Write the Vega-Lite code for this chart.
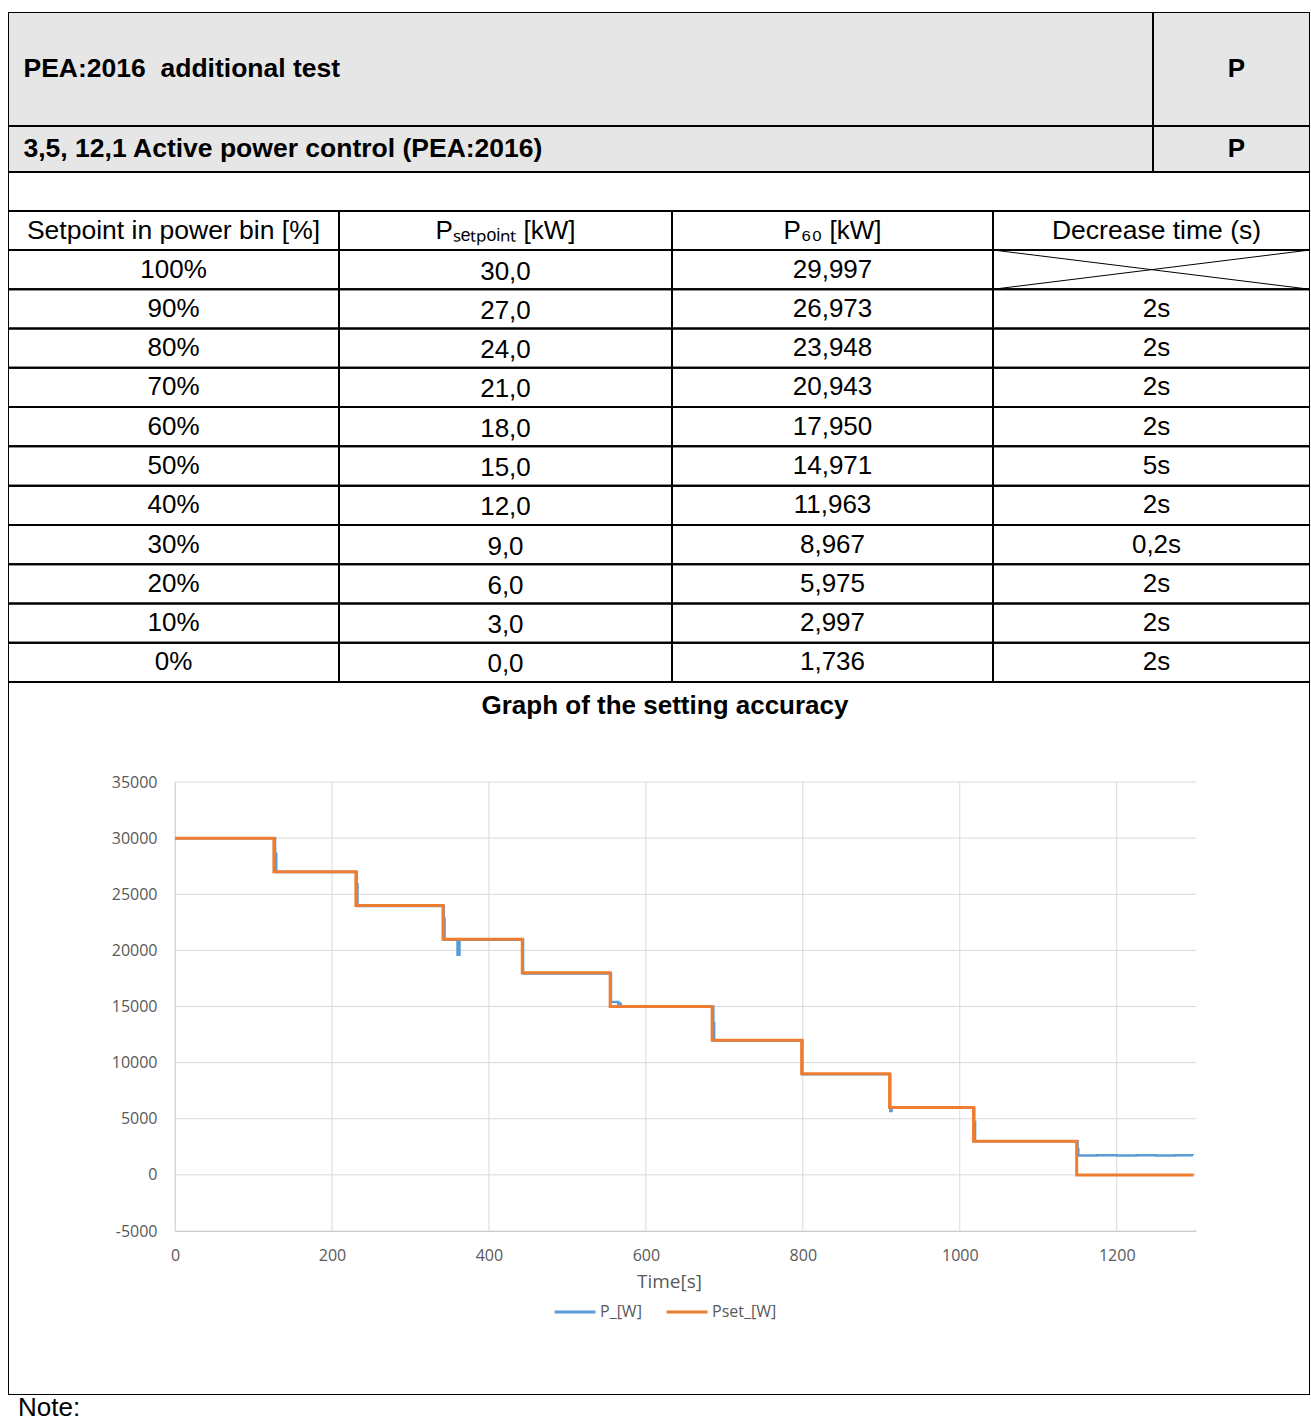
{
  "$schema": "https://vega.github.io/schema/vega-lite/v6.json",
  "background": "white",
  "padding": {"left": 8, "top": 12, "right": 0, "bottom": 0},
  "spacing": 0,
  "config": {
    "view": {"stroke": null, "fill": "white"},
    "text": {"font": "Liberation Sans", "fontSize": 26, "color": "black"},
    "locale": {"number": {"decimal": ",", "thousands": ".", "grouping": [3], "currency": ["", "s"], "minus": "-"}}
  },
  "datasets": {
    "table": [
      {"pct": 1.0, "pset": 30.0, "p60": 29.997, "dec": null},
      {"pct": 0.9, "pset": 27.0, "p60": 26.973, "dec": 2},
      {"pct": 0.8, "pset": 24.0, "p60": 23.948, "dec": 2},
      {"pct": 0.7, "pset": 21.0, "p60": 20.943, "dec": 2},
      {"pct": 0.6, "pset": 18.0, "p60": 17.950, "dec": 2},
      {"pct": 0.5, "pset": 15.0, "p60": 14.971, "dec": 5},
      {"pct": 0.4, "pset": 12.0, "p60": 11.963, "dec": 2},
      {"pct": 0.3, "pset": 9.0, "p60": 8.967, "dec": 0.2},
      {"pct": 0.2, "pset": 6.0, "p60": 5.975, "dec": 2},
      {"pct": 0.1, "pset": 3.0, "p60": 2.997, "dec": 2},
      {"pct": 0.0, "pset": 0.0, "p60": 1.736, "dec": 2}
    ],
    "power": [
      {"t": 0, "v": 29997, "s": "P_[W]"},
      {"t": 127.5, "v": 28600, "s": "P_[W]"},
      {"t": 129, "v": 26973, "s": "P_[W]"},
      {"t": 231.5, "v": 25900, "s": "P_[W]"},
      {"t": 232.5, "v": 23948, "s": "P_[W]"},
      {"t": 342.5, "v": 22800, "s": "P_[W]"},
      {"t": 343.5, "v": 20943, "s": "P_[W]"},
      {"t": 360, "v": 19600, "s": "P_[W]"},
      {"t": 362.5, "v": 20943, "s": "P_[W]"},
      {"t": 443.5, "v": 17950, "s": "P_[W]"},
      {"t": 555.5, "v": 15400, "s": "P_[W]"},
      {"t": 565, "v": 15250, "s": "P_[W]"},
      {"t": 568, "v": 14971, "s": "P_[W]"},
      {"t": 686, "v": 13500, "s": "P_[W]"},
      {"t": 687, "v": 11963, "s": "P_[W]"},
      {"t": 799.5, "v": 8967, "s": "P_[W]"},
      {"t": 911.5, "v": 5700, "s": "P_[W]"},
      {"t": 913, "v": 5975, "s": "P_[W]"},
      {"t": 1018.5, "v": 4700, "s": "P_[W]"},
      {"t": 1019.5, "v": 2997, "s": "P_[W]"},
      {"t": 1150, "v": 2300, "s": "P_[W]"},
      {"t": 1151, "v": 1736, "s": "P_[W]"},
      {"t": 1175, "v": 1755, "s": "P_[W]"},
      {"t": 1200, "v": 1722, "s": "P_[W]"},
      {"t": 1225, "v": 1748, "s": "P_[W]"},
      {"t": 1250, "v": 1730, "s": "P_[W]"},
      {"t": 1275, "v": 1752, "s": "P_[W]"},
      {"t": 1297, "v": 1740, "s": "P_[W]"},
      {"t": 0, "v": 30000, "s": "Pset_[W]"},
      {"t": 126, "v": 27000, "s": "Pset_[W]"},
      {"t": 230.5, "v": 24000, "s": "Pset_[W]"},
      {"t": 341.5, "v": 21000, "s": "Pset_[W]"},
      {"t": 442.5, "v": 18000, "s": "Pset_[W]"},
      {"t": 554.5, "v": 15000, "s": "Pset_[W]"},
      {"t": 684.5, "v": 12000, "s": "Pset_[W]"},
      {"t": 798.5, "v": 9000, "s": "Pset_[W]"},
      {"t": 910.5, "v": 6000, "s": "Pset_[W]"},
      {"t": 1017.5, "v": 3000, "s": "Pset_[W]"},
      {"t": 1149, "v": 0, "s": "Pset_[W]"},
      {"t": 1298, "v": 0, "s": "Pset_[W]"}
    ],
    "xgrid": [{"g": 0}, {"g": 200}, {"g": 400}, {"g": 600}, {"g": 800}, {"g": 1000}, {"g": 1200}],
    "ygrid": [{"g": -5000}, {"g": 0}, {"g": 5000}, {"g": 10000}, {"g": 15000}, {"g": 20000}, {"g": 25000}, {"g": 30000}, {"g": 35000}]
  },
  "vconcat": [
    {
      "hconcat": [
        {"width": 1145, "height": 114, "view": {"stroke": null, "fill": "#e6e6e6"},
         "data": {"values": [{"label": "PEA:2016\u00a0 additional test"}]},
         "layer": [
           {"mark": {"type": "rect", "fill": null, "stroke": "black", "strokeWidth": 2, "clip": true}},
           {"mark": {"type": "text", "align": "left", "dx": -557, "fontWeight": "bold", "fontSize": 26.5}, "encoding": {"text": {"field": "label"}}}
         ]},
        {"width": 157, "height": 114, "view": {"stroke": null, "fill": "#e6e6e6"},
         "data": {"values": [{"label": "P"}]},
         "layer": [
           {"mark": {"type": "rect", "fill": null, "stroke": "black", "strokeWidth": 2, "clip": true}},
           {"mark": {"type": "text", "dx": 5, "fontWeight": "bold", "fontSize": 26}, "encoding": {"text": {"field": "label"}}}
         ]}
      ],
      "spacing": 0, "bounds": "flush"
    },
    {
      "hconcat": [
        {"width": 1145, "height": 46, "view": {"stroke": null, "fill": "#e6e6e6"},
         "data": {"values": [{"label": "3,5, 12,1 Active power control (PEA:2016)"}]},
         "layer": [
           {"mark": {"type": "rect", "fill": null, "stroke": "black", "strokeWidth": 2, "clip": true}},
           {"mark": {"type": "text", "align": "left", "dx": -557, "fontWeight": "bold", "fontSize": 26.5}, "encoding": {"text": {"field": "label"}}}
         ]},
        {"width": 157, "height": 46, "view": {"stroke": null, "fill": "#e6e6e6"},
         "data": {"values": [{"label": "P"}]},
         "layer": [
           {"mark": {"type": "rect", "fill": null, "stroke": "black", "strokeWidth": 2, "clip": true}},
           {"mark": {"type": "text", "dx": 5, "fontWeight": "bold", "fontSize": 26}, "encoding": {"text": {"field": "label"}}}
         ]}
      ],
      "spacing": 0, "bounds": "flush"
    },
    {
      "width": 1302, "height": 39,
      "data": {"values": [{"label": ""}]},
      "mark": {"type": "rect", "fill": null, "stroke": "black", "strokeWidth": 2, "clip": true}
    },
    {
      "hconcat": [
        {"width": 331, "height": 39, "data": {"values": [{"label": "Setpoint in power bin [%]"}]},
         "layer": [
           {"mark": {"type": "rect", "fill": null, "stroke": "black", "strokeWidth": 2, "clip": true}},
           {"mark": {"type": "text", "fontSize": 26.5}, "encoding": {"text": {"field": "label"}}}
         ]},
        {"width": 333, "height": 39, "data": {"values": [{"label": "P\u209b\u2091\u209c\u209a\u2092\u1d62\u2099\u209c [kW]"}]},
         "layer": [
           {"mark": {"type": "rect", "fill": null, "stroke": "black", "strokeWidth": 2, "clip": true}},
           {"mark": {"type": "text"}, "encoding": {"text": {"field": "label"}}}
         ]},
        {"width": 321, "height": 39, "data": {"values": [{"label": "P\u2086\u2080 [kW]"}]},
         "layer": [
           {"mark": {"type": "rect", "fill": null, "stroke": "black", "strokeWidth": 2, "clip": true}},
           {"mark": {"type": "text"}, "encoding": {"text": {"field": "label"}}}
         ]},
        {"width": 317, "height": 39, "data": {"values": [{"label": "Decrease time (s)"}]},
         "layer": [
           {"mark": {"type": "rect", "fill": null, "stroke": "black", "strokeWidth": 2, "clip": true}},
           {"mark": {"type": "text", "dx": 5, "fontSize": 26.5}, "encoding": {"text": {"field": "label"}}}
         ]}
      ],
      "spacing": 0, "bounds": "flush"
    },
    {
      "hconcat": [
        {"width": 331, "height": 432,
         "data": {"name": "table"},
         "encoding": {"y": {"field": "pct", "type": "ordinal", "sort": "descending", "axis": null, "scale": {"paddingInner": 0, "paddingOuter": 0}}},
         "layer": [
           {"mark": {"type": "rect", "fill": null, "stroke": "black", "strokeWidth": 2, "clip": true}},
           {"mark": {"type": "text"}, "encoding": {"text": {"field": "pct", "type": "quantitative", "format": ".0%"}}}
         ]},
        {"width": 333, "height": 432,
         "data": {"name": "table"},
         "encoding": {"y": {"field": "pct", "type": "ordinal", "sort": "descending", "axis": null, "scale": {"paddingInner": 0, "paddingOuter": 0}}},
         "layer": [
           {"mark": {"type": "rect", "fill": null, "stroke": "black", "strokeWidth": 2, "clip": true}},
           {"mark": {"type": "text", "dy": 2}, "encoding": {"text": {"field": "pset", "type": "quantitative", "format": ".1f"}}}
         ]},
        {"width": 321, "height": 432,
         "data": {"name": "table"},
         "encoding": {"y": {"field": "pct", "type": "ordinal", "sort": "descending", "axis": null, "scale": {"paddingInner": 0, "paddingOuter": 0}}},
         "layer": [
           {"mark": {"type": "rect", "fill": null, "stroke": "black", "strokeWidth": 2, "clip": true}},
           {"mark": {"type": "text"}, "encoding": {"text": {"field": "p60", "type": "quantitative", "format": ".3f"}}}
         ]},
        {"width": 317, "height": 432,
         "resolve": {"scale": {"y": "independent"}},
         "layer": [
           {"data": {"name": "table"},
            "mark": {"type": "rect", "fill": null, "stroke": "black", "strokeWidth": 2, "clip": true},
            "encoding": {"y": {"field": "pct", "type": "ordinal", "sort": "descending", "axis": null, "scale": {"paddingInner": 0, "paddingOuter": 0}}}},
           {"data": {"name": "table"},
            "transform": [{"filter": "isValid(datum.dec)"}],
            "mark": {"type": "text", "dx": 5},
            "encoding": {"y": {"field": "pct", "type": "ordinal", "sort": "descending", "axis": null, "scale": {"domain": [1, 0.9, 0.8, 0.7, 0.6, 0.5, 0.4, 0.3, 0.2, 0.1, 0], "paddingInner": 0, "paddingOuter": 0}},
                         "text": {"field": "dec", "type": "quantitative", "format": "$.1~f"}}},
           {"data": {"values": [{}]},
            "mark": {"type": "rule", "stroke": "black", "strokeWidth": 1, "clip": true},
            "encoding": {"x": {"datum": 0, "type": "quantitative", "scale": {"domain": [0, 1], "nice": false}, "axis": null},
                         "x2": {"datum": 1},
                         "y": {"datum": 11, "type": "quantitative", "scale": {"domain": [0, 11], "nice": false, "zero": false}, "axis": null},
                         "y2": {"datum": 10}}},
           {"data": {"values": [{}]},
            "mark": {"type": "rule", "stroke": "black", "strokeWidth": 1, "clip": true},
            "encoding": {"x": {"datum": 0, "type": "quantitative", "scale": {"domain": [0, 1], "nice": false}, "axis": null},
                         "x2": {"datum": 1},
                         "y": {"datum": 10, "type": "quantitative", "scale": {"domain": [0, 11], "nice": false, "zero": false}, "axis": null},
                         "y2": {"datum": 11}}}
         ]}
      ],
      "spacing": 0, "bounds": "flush"
    },
    {
      "width": 1302, "height": 713,
      "title": {"text": "Graph of the setting accuracy", "anchor": "middle", "offset": -37, "dx": 6, "font": "Liberation Sans", "fontSize": 26, "fontWeight": "bold", "color": "black"},
      "layer": [
        {"data": {"values": [{}]},
         "mark": {"type": "rect", "fill": null, "stroke": "black", "strokeWidth": 2, "clip": true}},
        {
          "layer": [
            {"data": {"name": "xgrid"},
             "mark": {"type": "rule", "stroke": "#d9d9d9", "strokeWidth": 1},
             "encoding": {"x": {"field": "g", "type": "quantitative"}, "y": {"datum": -5000}, "y2": {"datum": 35000}}},
            {"data": {"name": "ygrid"},
             "mark": {"type": "rule", "stroke": "#d9d9d9", "strokeWidth": 1},
             "encoding": {"y": {"field": "g", "type": "quantitative"}, "x": {"datum": 0}, "x2": {"datum": 1301}}},
            {"data": {"name": "power"},
             "transform": [{"filter": "datum.s === 'P_[W]'"}],
             "mark": {"type": "line", "interpolate": "step-after", "strokeWidth": 2.5},
             "encoding": {"x": {"field": "t", "type": "quantitative"}, "y": {"field": "v", "type": "quantitative"},
                          "color": {"field": "s", "type": "nominal"}}},
            {"data": {"name": "power"},
             "transform": [{"filter": "datum.s === 'Pset_[W]'"}],
             "mark": {"type": "line", "interpolate": "step-after", "strokeWidth": 3},
             "encoding": {"x": {"field": "t", "type": "quantitative"}, "y": {"field": "v", "type": "quantitative"},
                          "color": {"field": "s", "type": "nominal"}}}
          ],
          "encoding": {
            "x": {"type": "quantitative",
                  "scale": {"domain": [0, 1301], "range": [167, 1188], "nice": false, "zero": false},
                  "axis": {"orient": "bottom", "offset": -164, "values": [0, 200, 400, 600, 800, 1000, 1200], "format": "d",
                           "grid": false, "domain": true, "domainColor": "#bfbfbf", "domainWidth": 1,
                           "ticks": false, "tickSize": 0, "labelFlush": false, "labelPadding": 16,
                           "labelFont": "Open Sans", "labelFontSize": 16, "labelColor": "#595959",
                           "title": "Time[s]", "titleX": 661, "titleFont": "Open Sans", "titleFontSize": 19, "titleFontWeight": "normal", "titleColor": "#595959", "titlePadding": 9}},
            "y": {"type": "quantitative",
                  "scale": {"domain": [-5000, 35000], "range": [549, 100], "nice": false, "zero": false},
                  "axis": {"offset": -167, "values": [-5000, 0, 5000, 10000, 15000, 20000, 25000, 30000, 35000], "format": "d",
                           "grid": false, "domain": true, "domainColor": "#d9d9d9", "domainWidth": 1,
                           "ticks": false, "tickSize": 0, "labelFlush": false, "labelPadding": 18,
                           "labelFont": "Open Sans", "labelFontSize": 16, "labelColor": "#595959", "title": null}},
            "color": {"type": "nominal",
                      "scale": {"domain": ["P_[W]", "Pset_[W]"], "range": ["#5B9BD5", "#ED7D31"]},
                      "legend": {"orient": "none", "legendX": 545, "legendY": 1278, "direction": "horizontal", "title": null,
                                 "symbolType": "stroke", "symbolSize": 1681, "symbolStrokeWidth": 3,
                                 "labelFont": "Open Sans", "labelFontSize": 16, "labelColor": "#595959", "labelOffset": 3,
                                 "columnPadding": 18, "padding": 0}}
          }
        }
      ]
    },
    {
      "width": 1302, "height": 24,
      "data": {"values": [{"label": "Note:"}]},
      "mark": {"type": "text", "align": "left", "dx": -641, "dy": 1},
      "encoding": {"text": {"field": "label"}}
    }
  ]
}
